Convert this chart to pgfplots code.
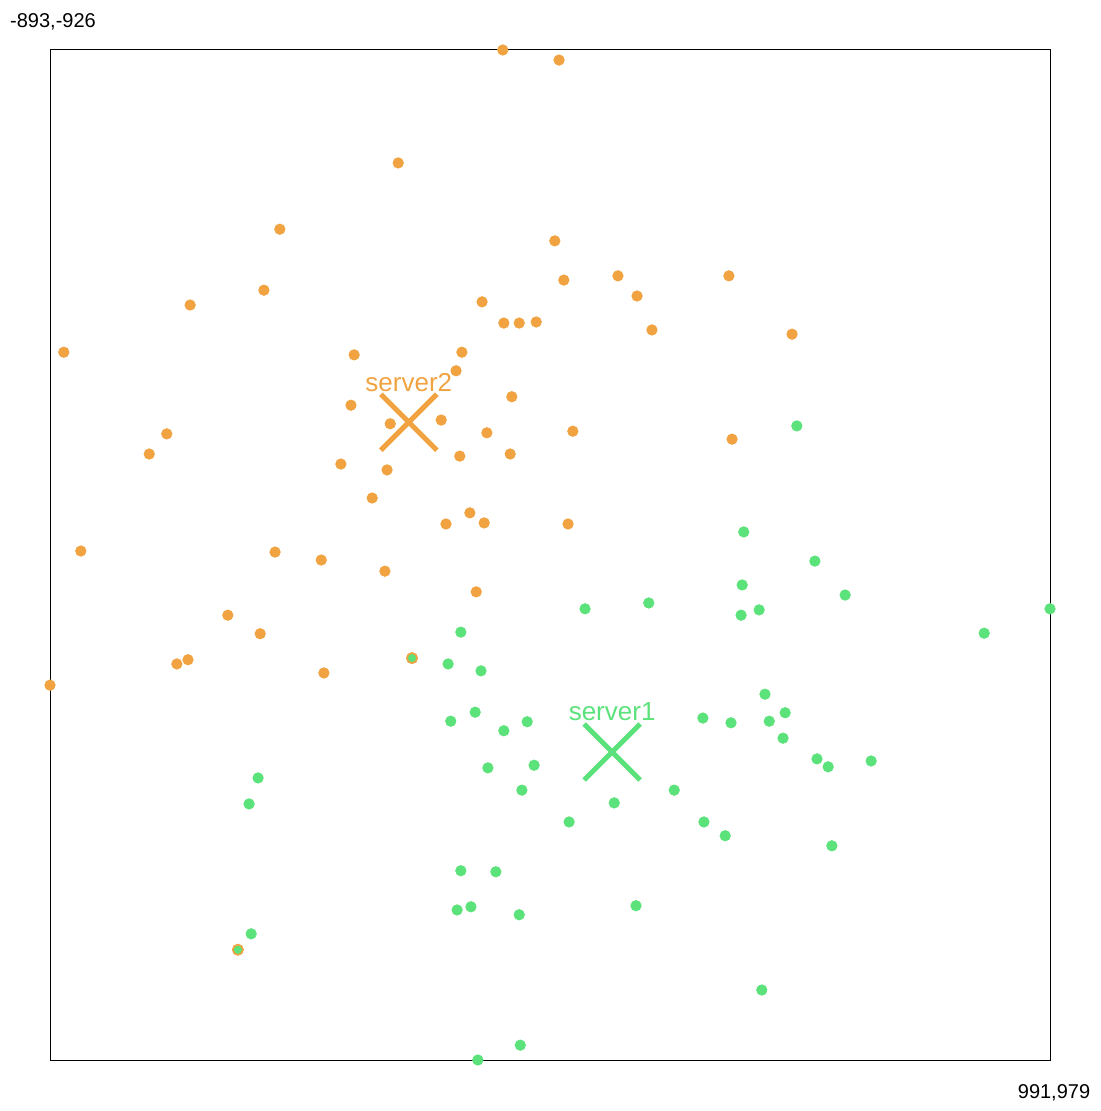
\documentclass[border=0pt]{standalone}
\usepackage{fontspec}
\setmainfont{Liberation Sans}
\usepackage{pgfplots}
\pgfplotsset{compat=1.18}
\definecolor{srvorange}{RGB}{240,163,64}
\definecolor{srvgreen}{RGB}{92,226,122}
\begin{document}
\begin{tikzpicture}
\begin{axis}[
  scale only axis, width=500pt, height=505pt,
  xmin=-893, xmax=991, ymin=-926, ymax=979, y dir=reverse,
  xtick=\empty, ytick=\empty, clip=false,
  axis line style={line width=0.5pt},
]
% clients of server2
\addplot[only marks, mark=*, mark size=2.6pt, color=srvorange] coordinates {
(-40,-926) (66,-907) (-237,-713) (-460,-588) (58,-566) (-490,-473)
(177,-500) (386,-500) (75,-492) (-629,-445) (-79,-451) (213,-462)
(-38,-411) (-9,-411) (23,-413) (241,-398) (505,-390) (-867,-356)
(-320,-351) (-117,-356) (-128,-321) (-23,-272) (-326,-256) (-252,-221)
(-156,-228) (-673,-202) (-70,-204) (92,-207) (-706,-164) (-121,-160)
(-26,-164) (392,-192) (-345,-145) (-258,-134) (-286,-81) (-102,-53)
(-147,-32) (-75,-34) (83,-32) (-835,19) (-469,21) (-382,36)
(-262,57) (-90,96) (-558,140) (-497,175) (-654,232) (-633,224)
(-377,249) (-893,272)
};
\addplot[only marks, mark=*, mark size=2.8pt, color=srvorange] coordinates {
(-211,221) (-539,771)
};
% clients of server1
\addplot[only marks, mark=*, mark size=2.6pt, color=srvgreen] coordinates {
(514,-217) (414,-17) (548,38) (411,83) (605,102) (115,128)
(235,117) (409,140) (443,130) (991,128) (867,174) (-119,172)
(-143,232) (-81,245) (454,289) (492,324) (337,334) (390,343)
(462,340) (-138,340) (-92,323) (6,341) (-38,358) (488,372)
(19,423) (-68,428) (552,411) (573,426) (654,415) (-501,447)
(-518,496) (-4,470) (170,494) (283,470) (85,530) (339,530)
(379,556) (580,575) (-119,622) (-53,624) (-126,696) (-100,690)
(-9,705) (211,688) (-514,741) (448,847) (-7,951) (-87,979)
};
\addplot[only marks, mark=*, mark size=1.8pt, color=srvgreen] coordinates {
(-211,221) (-539,771)
};
% servers
\addplot[only marks, mark=x, mark size=19.8pt, color=srvorange,
  mark options={line width=2.5pt},
  nodes near coords, point meta=explicit symbolic,
  every node near coord/.style={font=\fontsize{13pt}{13pt}\selectfont,
    text=srvorange, anchor=center, yshift=20pt}]
  coordinates {(-217,-224) [server2]};
\addplot[only marks, mark=x, mark size=19.8pt, color=srvgreen,
  mark options={line width=2.5pt},
  nodes near coords, point meta=explicit symbolic,
  every node near coord/.style={font=\fontsize{13pt}{13pt}\selectfont,
    text=srvgreen, anchor=center, yshift=20pt}]
  coordinates {(166,398) [server1]};
\node[font=\fontsize{10pt}{12pt}\selectfont, anchor=center,
  xshift=1.5pt, yshift=14pt] at (axis cs:-893,-926) {-893,-926};
\node[font=\fontsize{10pt}{12pt}\selectfont, anchor=center,
  xshift=2pt, yshift=-16.5pt] at (axis cs:991,979) {991,979};
\end{axis}
\pgfresetboundingbox
\path[use as bounding box] ([shift={(-25pt,-25.5pt)}]current axis.south west)
  rectangle ([shift={(25pt,25pt)}]current axis.north east);
\end{tikzpicture}
\end{document}
